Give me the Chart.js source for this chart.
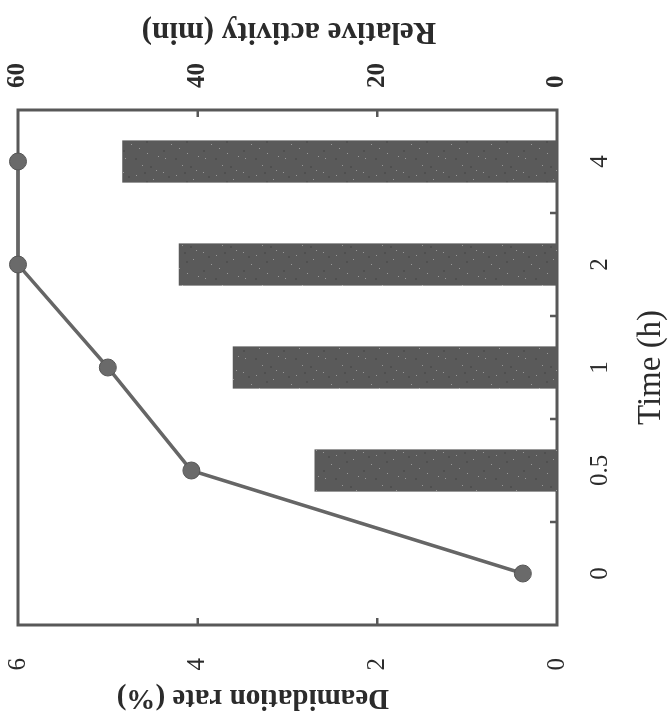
<!DOCTYPE html>
<html>
<head>
<meta charset="utf-8">
<script src="https://cdn.jsdelivr.net/npm/chart.js@4.4.1/dist/chart.umd.min.js"></script>
<style>
    html, body { margin: 0; padding: 0; background: #fff; overflow: hidden; }
    #wrap {
        position: absolute; left: 0; top: 0;
        width: 722px; height: 670px;
        transform-origin: 0 0;
        transform: translate(0, 722px) rotate(-90deg);
    }
</style>
</head>
<body>
<div id="wrap"><canvas id="chart" width="722" height="670"></canvas></div>
<script>
// chart is drawn upright and the whole canvas turned a quarter turn, like the scanned figure
const timeLabels = ["0", "0.5", "1", "2", "4"];
const deamidationRate = [0.38, 4.07, 5.0, 6.0, 6.0];
const relativeActivity = [0, 27.0, 36.1, 42.1, 48.4];
const deamidationTicks = [0, 2, 4, 6];
const activityTicks = [0, 20, 40, 60];

const ink = "#2b2b2b";
const frameGrey = "#585858";

function barPattern() {
    const c = document.createElement("canvas");
    c.width = 40; c.height = 40;
    const g = c.getContext("2d");
    g.fillStyle = "#5a5a5a";
    g.fillRect(0, 0, 40, 40);
    const dots = [[3, 5], [17, 11], [29, 3], [36, 22], [8, 27], [22, 33], [13, 19], [31, 36], [26, 16], [5, 38]];
    g.fillStyle = "#9a9a9a";
    dots.forEach(d => g.fillRect(d[0], d[1], 1, 1));
    g.fillStyle = "#4f4f4f";
    [[10, 3], [24, 8], [2, 15], [19, 26], [34, 30], [28, 24]].forEach(d => g.fillRect(d[0], d[1], 2, 2));
    return g.createPattern(c, "repeat");
}

function noEdgePadding(scale) {
    scale.paddingTop = 0;
    scale.paddingBottom = 0;
    scale.paddingLeft = 0;
    scale.paddingRight = 0;
}

const framePlugin = {
    id: "frame",
    beforeDatasetsDraw(chart) {
        const { ctx, chartArea: a, scales } = chart;
        ctx.save();
        ctx.strokeStyle = frameGrey;
        ctx.lineWidth = 3;
        ctx.strokeRect(a.left, a.top, a.right - a.left, a.bottom - a.top);
        ctx.lineWidth = 2.5;
        ctx.beginPath();
        deamidationTicks.slice(1, -1).forEach(v => {
            const y = scales.y.getPixelForValue(v);
            ctx.moveTo(a.left, y); ctx.lineTo(a.left + 7, y);
        });
        activityTicks.slice(1, -1).forEach(v => {
            const y = scales.y1.getPixelForValue(v);
            ctx.moveTo(a.right, y); ctx.lineTo(a.right - 7, y);
        });
        for (let i = 1; i < timeLabels.length; i++) {
            const x = (scales.x.getPixelForTick(i - 1) + scales.x.getPixelForTick(i)) / 2;
            ctx.moveTo(x, a.bottom); ctx.lineTo(x, a.bottom - 7);
        }
        ctx.stroke();
        ctx.restore();
    },
    afterDraw(chart) {
        const { ctx, chartArea: a } = chart;
        ctx.save();
        ctx.fillStyle = ink;
        ctx.textAlign = "center";
        ctx.textBaseline = "middle";

        ctx.save();
        ctx.translate(25, 253);
        ctx.rotate(-Math.PI / 2);
        ctx.font = "bold 29px 'Liberation Serif'";
        ctx.fillText("Deamidation rate (%)", 0, 0);
        ctx.restore();

        ctx.save();
        ctx.translate(691, 289);
        ctx.rotate(-Math.PI / 2);
        ctx.font = "bold 31px 'Liberation Serif'";
        ctx.fillText("Relative activity (min)", 0, 0);
        ctx.restore();

        ctx.font = "33px 'Liberation Serif'";
        ctx.fillText("Time (h)", (a.left + a.right) / 2, 651);
        ctx.restore();
    }
};

const ctx = document.getElementById("chart").getContext("2d");
new Chart(ctx, {
    type: "bar",
    data: {
        labels: timeLabels,
        datasets: [
            {
                type: "line",
                label: "Deamidation rate (%)",
                data: deamidationRate,
                yAxisID: "y",
                borderColor: "#666666",
                borderWidth: 3.5,
                pointRadius: 8.5,
                pointBackgroundColor: "#6a6a6a",
                pointBorderColor: "#555555",
                pointBorderWidth: 1,
                tension: 0,
                clip: false,
                order: 0
            },
            {
                label: "Relative activity (min)",
                data: relativeActivity,
                yAxisID: "y1",
                backgroundColor: barPattern(),
                borderWidth: 0,
                categoryPercentage: 1,
                barPercentage: 0.41,
                order: 1
            }
        ]
    },
    options: {
        responsive: false,
        animation: false,
        devicePixelRatio: 1,
        layout: { padding: { top: 18, left: 0, right: 0, bottom: 0 } },
        plugins: { legend: { display: false }, tooltip: { enabled: false } },
        scales: {
            x: {
                offset: true,
                grid: { display: false, drawTicks: false },
                border: { display: false },
                ticks: {
                    color: ink,
                    padding: 28,
                    maxRotation: 0,
                    font: { family: "'Liberation Serif'", size: 25 }
                },
                afterFit(scale) { scale.height = 113; noEdgePadding(scale); }
            },
            y: {
                position: "left",
                min: 0,
                max: 6,
                grid: { display: false, drawTicks: false },
                border: { display: false },
                afterBuildTicks(scale) { scale.ticks = deamidationTicks.map(v => ({ value: v })); },
                ticks: {
                    color: ink,
                    padding: 33,
                    font: { family: "'Liberation Serif'", size: 25 }
                },
                afterFit(scale) { scale.width = 97; noEdgePadding(scale); }
            },
            y1: {
                position: "right",
                min: 0,
                max: 60,
                grid: { display: false, drawTicks: false },
                border: { display: false },
                afterBuildTicks(scale) { scale.ticks = activityTicks.map(v => ({ value: v })); },
                ticks: {
                    color: ink,
                    padding: 22,
                    font: { family: "'Liberation Serif'", size: 25, weight: "bold" }
                },
                afterFit(scale) { scale.width = 110; noEdgePadding(scale); }
            }
        }
    },
    plugins: [framePlugin]
});
</script>
</body>
</html>
